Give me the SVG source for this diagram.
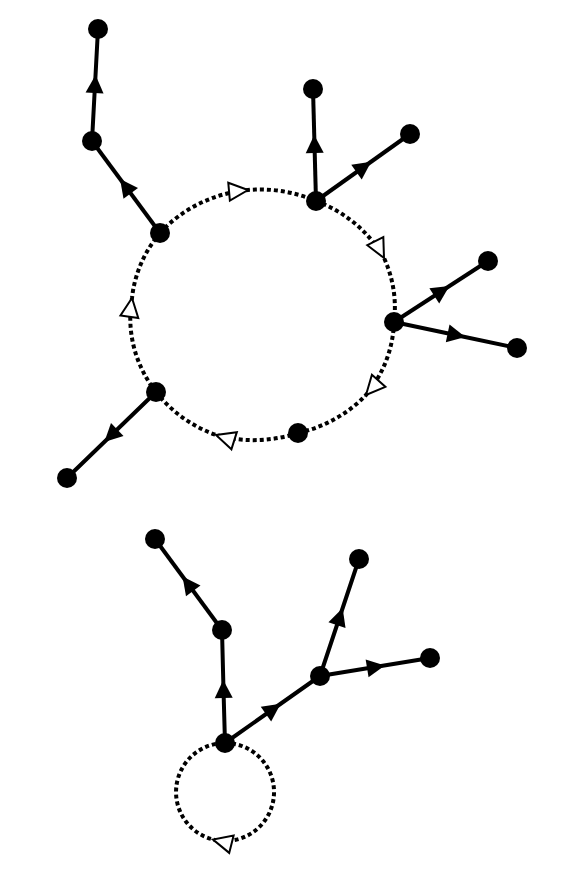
<svg xmlns="http://www.w3.org/2000/svg" width="582" height="878" viewBox="0 0 582 878">
<style>
.solid{fill:none;stroke:#000;stroke-width:4;marker-mid:url(#fa)}
.dot{fill:none;stroke:#000;stroke-width:4;stroke-dasharray:4 3;marker-mid:url(#ha)}
.node{fill:#000}
</style>
<defs>
<marker id="fa" markerUnits="userSpaceOnUse" viewBox="-12 -12 24 24" markerWidth="24" markerHeight="24" refX="0" refY="0" orient="auto">
<path d="M-8,-9 L10,0 L-8,9 Z" fill="#000"/>
</marker>
<marker id="ha" markerUnits="userSpaceOnUse" viewBox="-22 -12 25 24" markerWidth="25" markerHeight="24" refX="0" refY="0" orient="auto">
<path d="M-19,-9 L0,0 L-19,9 Z" fill="#fff" stroke="#000" stroke-width="2" stroke-linejoin="miter"/>
</marker>
</defs>
<rect width="582" height="878" fill="#fff"/>
<g id="connectors">
<path class="dot" d="M160,233 A133,125 0 0 1 248,190 A133,125 0 0 1 316,201"/>
<path class="dot" d="M316,201 A133,125 0 0 1 384,258 A133,125 0 0 1 394,322"/>
<path class="dot" d="M394,322 A133,125 0 0 1 366,395 A133,125 0 0 1 298,433"/>
<path class="dot" d="M298,433 A133,125 0 0 1 216,435 A133,125 0 0 1 156,392"/>
<path class="dot" d="M156,392 A133,125 0 0 1 132,298 A133,125 0 0 1 160,233"/>
<path class="solid" d="M160,233 L126,187 L92,141"/>
<path class="solid" d="M92,141 L95,85 L98,29"/>
<path class="solid" d="M316,201 L314.5,145 L313,89"/>
<path class="solid" d="M316,201 L363,167.5 L410,134"/>
<path class="solid" d="M394,322 L441,291.5 L488,261"/>
<path class="solid" d="M394,322 L455.5,335 L517,348"/>
<path class="solid" d="M156,392 L111.5,435 L67,478"/>
<path class="dot" d="M225,743 A49,49 0 1 1 213,839.5 A49,49 0 0 1 225,743"/>
<path class="solid" d="M225,743 L223.5,690 L222,630"/>
<path class="solid" d="M222,630 L188.5,584.5 L155,539"/>
<path class="solid" d="M225,743 L272.5,709.5 L320,676"/>
<path class="solid" d="M320,676 L339.5,617.5 L359,559"/>
<path class="solid" d="M320,676 L375,667 L430,658"/>
</g>
<g id="n1"><circle class="node" cx="98" cy="29" r="10"/></g>
<g id="n2"><circle class="node" cx="92" cy="141" r="10"/></g>
<g id="n3"><circle class="node" cx="160" cy="233" r="10"/></g>
<g id="n4"><circle class="node" cx="313" cy="89" r="10"/></g>
<g id="n5"><circle class="node" cx="410" cy="134" r="10"/></g>
<g id="n6"><circle class="node" cx="316" cy="201" r="10"/></g>
<g id="n7"><circle class="node" cx="488" cy="261" r="10"/></g>
<g id="n8"><circle class="node" cx="517" cy="348" r="10"/></g>
<g id="n9"><circle class="node" cx="394" cy="322" r="10"/></g>
<g id="n10"><circle class="node" cx="298" cy="433" r="10"/></g>
<g id="n11"><circle class="node" cx="156" cy="392" r="10"/></g>
<g id="n12"><circle class="node" cx="67" cy="478" r="10"/></g>
<g id="n13"><circle class="node" cx="155" cy="539" r="10"/></g>
<g id="n14"><circle class="node" cx="222" cy="630" r="10"/></g>
<g id="n15"><circle class="node" cx="225" cy="743" r="10"/></g>
<g id="n16"><circle class="node" cx="320" cy="676" r="10"/></g>
<g id="n17"><circle class="node" cx="359" cy="559" r="10"/></g>
<g id="n18"><circle class="node" cx="430" cy="658" r="10"/></g>
</svg>
